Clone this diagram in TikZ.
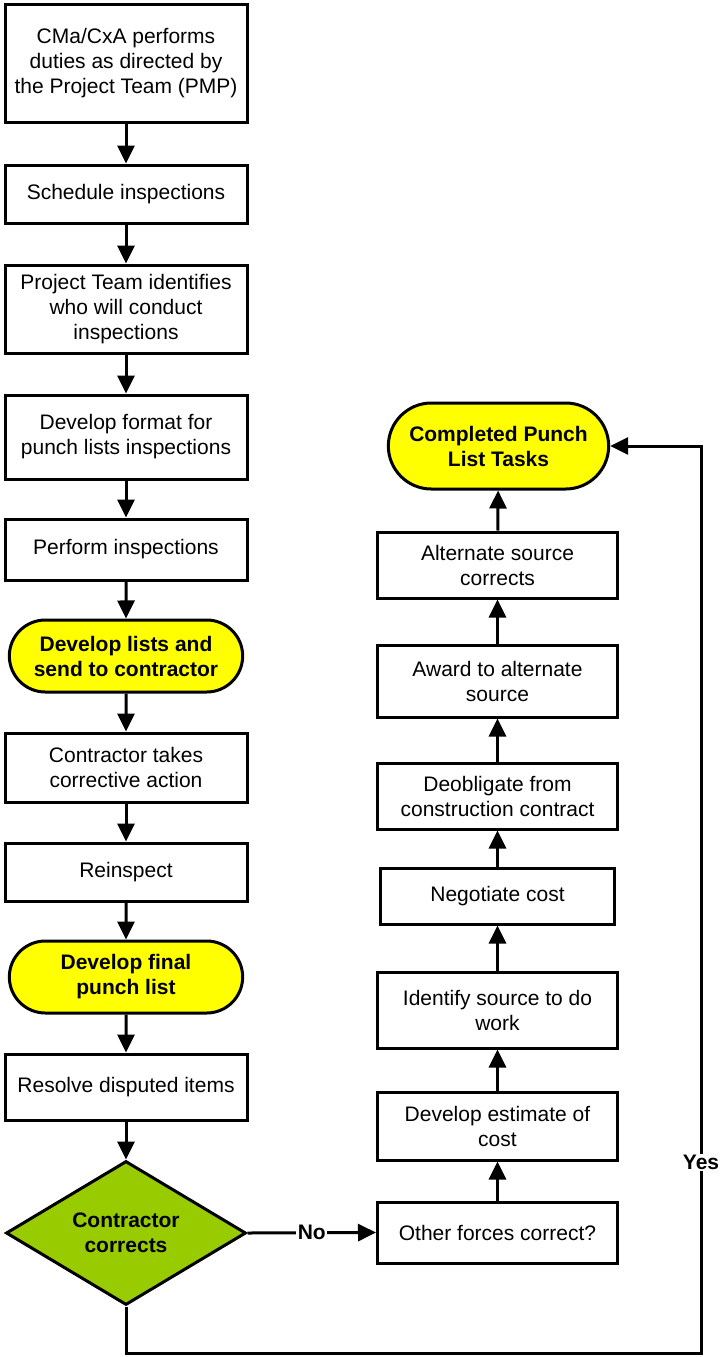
\documentclass[tikz,border=0pt]{standalone}
\usepackage{fontspec}
\setmainfont{Liberation Sans}
\usepackage{tikz}
\usetikzlibrary{arrows.meta,shapes.geometric,shapes.misc}
\definecolor{PunchYellow}{HTML}{FFFF00}
\definecolor{DecideGreen}{HTML}{99CC00}

\begin{document}
\begin{tikzpicture}[x=1pt,y=-1pt,
    every node/.style={font=\fontsize{21}{25}\selectfont,align=center},
    box/.style={draw,line width=3pt,fill=white,minimum width=242pt},
    term/.style={draw,line width=3pt,fill=PunchYellow,rounded rectangle,minimum width=240pt,font=\fontsize{21}{25}\selectfont\bfseries},
    decide/.style={draw,line width=3pt,fill=DecideGreen,diamond,aspect=1.667,inner sep=0pt,minimum width=240pt,minimum height=144pt,font=\fontsize{21}{25}\selectfont\bfseries},
    flow/.style={line width=3pt,-{Triangle[length=18pt,width=17pt]}},
    answer/.style={fill=white,inner sep=1.5pt,font=\fontsize{21}{25}\selectfont\bfseries}]
  \useasboundingbox (0,0) rectangle (720,1357);
  % left column
  \node[box,minimum height=118pt] (cma) at (126,63) {CMa/CxA performs\\duties as directed by\\the Project Team (PMP)};
  \node[box,minimum height=58pt] (sched) at (126,194) {Schedule inspections};
  \node[box,minimum height=88pt] (team) at (126,309) {Project Team identifies\\who will conduct\\inspections};
  \node[box,minimum height=84pt] (fmt) at (126,437) {Develop format for\\punch lists inspections};
  \node[box,minimum height=61pt] (perform) at (126,549.5) {Perform inspections};
  \node[term,minimum height=72pt] (lists) at (126,656) {Develop lists and\\send to contractor};
  \node[box,minimum height=69pt] (corr) at (126,767.5) {Contractor takes\\corrective action};
  \node[box,minimum height=58pt] (reinsp) at (126,872) {Reinspect};
  \node[term,minimum height=72pt] (final) at (126,977) {Develop final\\punch list};
  \node[box,minimum height=66pt] (resolve) at (126,1087) {Resolve disputed items};
  \node[decide] (decide) at (126,1233) {Contractor\\corrects};
  % right column
  \node[box,minimum width=240pt,minimum height=61pt] (other) at (497.5,1232.5) {Other forces correct?};
  \node[box,minimum width=240pt,minimum height=68pt] (estim) at (497.5,1126) {Develop estimate of\\cost};
  \node[box,minimum width=240pt,minimum height=76pt] (ident) at (497.5,1010) {Identify source to do\\work};
  \node[box,minimum width=234pt,minimum height=56pt] (negot) at (497.5,896) {Negotiate cost};
  \node[box,minimum width=240pt,minimum height=66pt] (deob) at (497.5,796) {Deobligate from\\construction contract};
  \node[box,minimum width=240pt,minimum height=72pt] (award) at (497.5,681) {Award to alternate\\source};
  \node[box,minimum width=240pt,minimum height=66pt] (alt) at (497.5,565) {Alternate source\\corrects};
  \node[term,minimum width=227pt,minimum height=86pt] (done) at (498.5,446) {Completed Punch\\List Tasks};
  \coordinate (lowL) at (126,1353);
  \coordinate (lowR) at (701,1353);
  \coordinate (topR) at (701,446);

  \foreach \a/\b in {cma/sched,sched/team,team/fmt,fmt/perform,perform/lists,lists/corr,corr/reinsp,reinsp/final,final/resolve,resolve/decide,other/estim,estim/ident,ident/negot,negot/deob,deob/award,award/alt,alt/done}
    \draw[flow] (\a) -- (\b);
  \draw[flow] (decide.east) -- node[answer] {No} (other.west);
  \draw[flow] (decide.south) -- (lowL) -- (lowR) -- node[answer,pos=0.21] {Yes} (topR) -- (done.east);
\end{tikzpicture}
\end{document}
